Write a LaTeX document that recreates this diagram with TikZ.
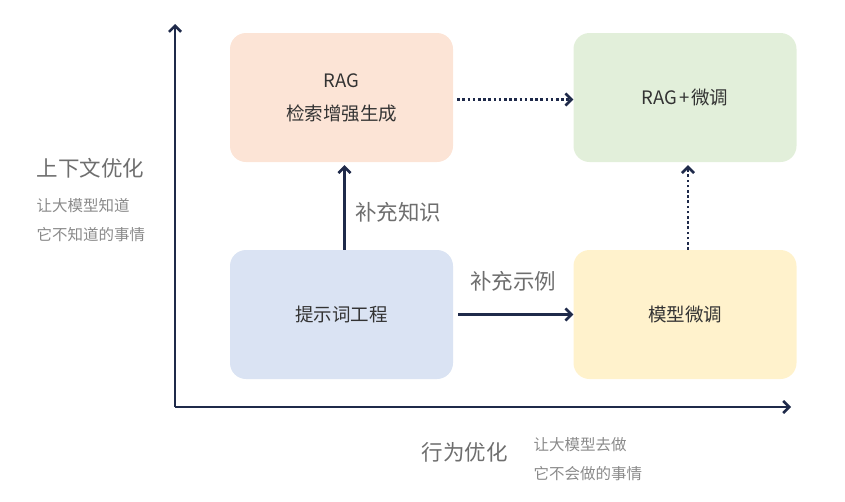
\documentclass[tikz,border=0pt]{standalone}
\usepackage{fontspec}
\setmainfont{Noto Sans CJK SC}
\usetikzlibrary{arrows.meta}
\definecolor{axisblue}{HTML}{1F2A4A}
\definecolor{ragfill}{HTML}{FCE4D6}
\definecolor{mixfill}{HTML}{E2EFDA}
\definecolor{promptfill}{HTML}{DAE3F3}
\definecolor{tunefill}{HTML}{FFF2CC}
\definecolor{labelgray}{HTML}{6E6E6E}
\definecolor{notegray}{HTML}{8A8A8A}

\begin{document}
\begin{tikzpicture}[
    x=1pt, y=-1pt,
    quad/.style={rounded corners=16pt, minimum width=223pt, minimum height=129pt,
        align=center, font=\fontsize{18.5}{33}\selectfont, text=black!80},
    link/.style={axisblue, line width=2.5pt, -{Straight Barb[length=6pt, width=12pt, line width=2.6pt]}},
    dotlink/.style={link, dash pattern=on 2.6pt off 2.6pt},
    axis/.style={axisblue, line width=2.8pt, -{Straight Barb[length=6pt, width=12pt, line width=2.6pt]}},
    bigtext/.style={labelgray, font=\fontsize{21.5}{24}\selectfont},
    smalltext/.style={notegray, font=\fontsize{15.5}{29}\selectfont, align=left}
]
    \useasboundingbox (0,0) rectangle (845,501);

    \coordinate (O) at (175,407);
    \coordinate (Ytop) at (175,24);
    \coordinate (Xend) at (791,407);
    \draw[axis] (O) -- (Ytop);
    \draw[axis] (O) -- (Xend);

    \node[quad, fill=ragfill] (RAG) at (341.5,97.5) {RAG\\检索增强生成};
    \node[quad, fill=mixfill] (MIX) at (685,97.5) {RAG\kern2pt+\kern2pt微调};
    \node[quad, fill=promptfill] (PROMPT) at (341.5,314.5) {提示词工程};
    \node[quad, fill=tunefill] (TUNE) at (685,314.5) {模型微调};

    \draw[link] ([xshift=3pt]PROMPT.north) -- ([xshift=3pt, yshift=-3pt]RAG.south);
    \draw[link] ([xshift=5pt]PROMPT.east) -- (TUNE.west);
    \draw[dotlink] ([xshift=4pt, yshift=-2pt]RAG.east) -- ([yshift=-2pt]MIX.west);
    \draw[dotlink] ([xshift=3pt]TUNE.north) -- ([xshift=3pt, yshift=-3pt]MIX.south);

    \node[bigtext] (KNOW) at (398,212) {补充知识};
    \node[bigtext] (EXAMPLE) at (513,281) {补充示例};

    \node[bigtext, anchor=west] (CTX) at (33,168) {上下文优化};
    \node[smalltext, anchor=north west] (CTXNOTE) at (33,195) {让大模型知道\\它不知道的事情};

    \node[bigtext, anchor=west] (ACT) at (418,452) {行为优化};
    \node[smalltext, anchor=north west] (ACTNOTE) at (530,434) {让大模型去做\\它不会做的事情};
\end{tikzpicture}
\end{document}
